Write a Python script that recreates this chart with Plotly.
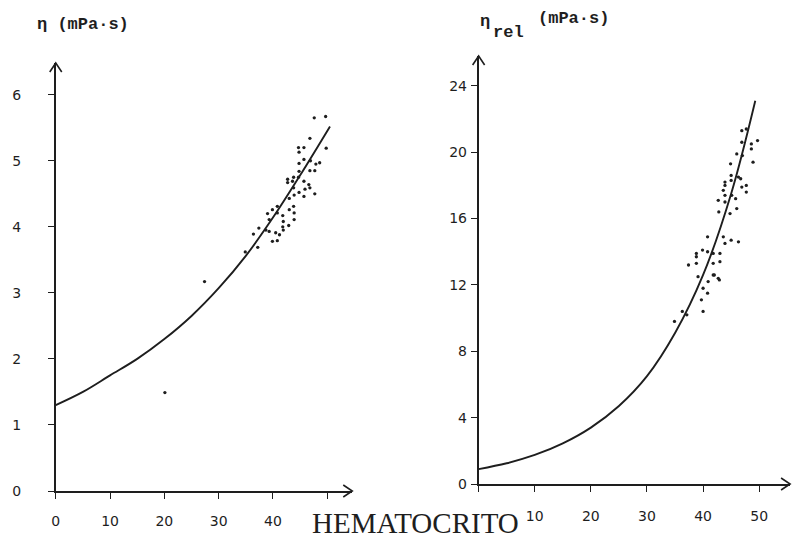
import plotly.graph_objects as go

# ---- data ----
# Left: viscosity eta (mPa.s) vs hematocrit
left_curve_x = [0, 5, 10, 15, 20, 25, 30, 35, 40, 45, 50.5]
left_curve_y = [1.3, 1.5, 1.75, 2.0, 2.3, 2.65, 3.07, 3.56, 4.14, 4.78, 5.52]

left_pts_x = [47.6, 49.7, 46.8, 44.7, 45.7, 44.8, 49.8, 45.7, 46.9, 48.6, 47.9, 44.8,
              44.8, 46.8, 47.7, 43.8, 44.7, 42.7, 43.6, 42.7, 45.7, 46.6, 45.9, 46.8,
              47.7, 45.7, 44.8, 43.8, 43.9, 43.0, 43.8, 43.0, 43.9, 40.8, 39.9, 39.0,
              40.8, 41.8, 43.9, 41.9, 42.9, 41.8, 41.9, 37.4, 38.7, 36.4, 39.3, 40.5,
              41.2, 39.9, 40.8, 37.2, 34.9, 39.3, 27.4, 20.1]
left_pts_y = [5.65, 5.67, 5.34, 5.20, 5.20, 5.13, 5.19, 5.02, 5.00, 4.97, 4.95, 4.96,
              4.84, 4.85, 4.85, 4.75, 4.75, 4.72, 4.69, 4.67, 4.69, 4.64, 4.57, 4.59,
              4.50, 4.46, 4.52, 4.59, 4.48, 4.43, 4.31, 4.26, 4.21, 4.31, 4.26, 4.20,
              4.21, 4.17, 4.11, 4.08, 4.02, 4.00, 3.95, 3.98, 3.95, 3.89, 3.93, 3.91,
              3.88, 3.78, 3.79, 3.69, 3.62, 4.11, 3.17, 1.49]

# Right: relative viscosity vs hematocrit
right_curve_x = [0, 5, 10, 15, 20, 25, 30, 35, 40, 45, 49.3]
right_curve_y = [0.9, 1.25, 1.75, 2.45, 3.4, 4.7, 6.5, 9.1, 12.6, 17.5, 23.1]

right_pts_x = [46.9, 47.7, 46.9, 48.6, 49.7, 48.6, 46.0, 47.0, 48.9, 44.9, 45.0, 46.3,
               46.7, 43.9, 45.0, 43.9, 46.9, 47.7, 47.7, 43.6, 43.9, 45.1, 42.7, 43.9,
               45.8, 46.0, 42.8, 44.8, 40.8, 43.6, 43.9, 45.0, 46.3, 38.8, 39.9, 40.8,
               41.8, 43.0, 38.8, 43.0, 37.4, 38.8, 41.8, 39.1, 41.8, 42.7, 40.9, 42.0,
               42.9, 40.0, 40.8, 39.7, 40.0, 36.3, 37.1, 34.9]
right_pts_y = [21.3, 21.4, 20.6, 20.5, 20.7, 20.2, 19.9, 19.8, 19.4, 19.3, 18.6, 18.5,
               18.4, 18.2, 18.3, 18.0, 17.9, 18.0, 17.6, 17.7, 17.4, 17.4, 17.1, 17.0,
               17.2, 16.6, 16.4, 16.3, 14.9, 14.9, 14.5, 14.7, 14.6, 13.9, 14.1, 14.0,
               13.9, 13.9, 13.7, 13.4, 13.2, 13.3, 13.3, 12.5, 12.6, 12.4, 12.2, 12.6,
               12.3, 11.8, 11.5, 11.1, 10.4, 10.4, 10.2, 9.8]

left_xticks = [0, 10, 20, 30, 40]
left_xminor = [50]
left_yticks = [0, 1, 2, 3, 4, 5, 6]
right_xticks = [10, 20, 30, 40, 50]
right_xminor = [0]
right_yticks = [0, 4, 8, 12, 16, 20, 24]

INK = "#1e1e1e"
W, H = 805, 538
HEFF = 530.0  # effective vertical size used for pixel -> paper conversion


def fx(px):
    return px / W


def fy(py):
    return 1 - py / HEFF


fig = go.Figure()
fig.add_trace(go.Scatter(x=left_curve_x, y=left_curve_y, mode="lines",
                         line=dict(color=INK, width=1.9, shape="spline"),
                         xaxis="x", yaxis="y", showlegend=False))
fig.add_trace(go.Scatter(x=left_pts_x, y=left_pts_y, mode="markers",
                         marker=dict(color=INK, size=3.3),
                         xaxis="x", yaxis="y", showlegend=False))
fig.add_trace(go.Scatter(x=right_curve_x, y=right_curve_y, mode="lines",
                         line=dict(color=INK, width=1.9, shape="spline"),
                         xaxis="x2", yaxis="y2", showlegend=False))
fig.add_trace(go.Scatter(x=right_pts_x, y=right_pts_y, mode="markers",
                         marker=dict(color=INK, size=3.3),
                         xaxis="x2", yaxis="y2", showlegend=False))

tickfont = dict(family="DejaVu Sans", size=14, color=INK)
axcommon = dict(showgrid=False, zeroline=False, showline=True, linecolor=INK,
                linewidth=1.6, ticks="outside", ticklen=6, tickwidth=1.4,
                tickcolor=INK, tickfont=tickfont)
minorstyle = dict(ticks="outside", ticklen=6, tickwidth=1.4, tickcolor=INK, showgrid=False)

LX0, LX1 = 52, 350
LYB, LYT = 491, 63
RX0, RX1 = 477, 790
RYB, RYT = 484, 56

left_xmax = 54.6
left_ymax = 6.48
right_xmax = 55.5
right_ymax = 25.8

fig.update_layout(
    width=W, height=H,
    margin=dict(l=0, r=0, t=0, b=0),
    paper_bgcolor="white", plot_bgcolor="white",
    xaxis=dict(domain=[fx(LX0), fx(LX1)], range=[0, left_xmax], anchor="y",
               tickvals=left_xticks, minor=dict(tickvals=left_xminor, **minorstyle),
               ticklabelstandoff=10, **axcommon),
    yaxis=dict(domain=[fy(LYB), fy(LYT)], range=[0, left_ymax], anchor="x",
               tickvals=left_yticks, ticklabelstandoff=24, **axcommon),
    xaxis2=dict(domain=[fx(RX0), fx(RX1)], range=[0, right_xmax], anchor="y2",
                tickvals=right_xticks, minor=dict(tickvals=right_xminor, **minorstyle),
                ticklabelstandoff=12, **axcommon),
    yaxis2=dict(domain=[fy(RYB), fy(RYT)], range=[0, right_ymax], anchor="x2",
                tickvals=right_yticks, ticklabelstandoff=1, **axcommon),
)


# Arrowheads at the axis ends (open chevrons, pixel-sized, paper anchored)
def chevron(px, py, path):
    fig.add_shape(type="path", xref="paper", yref="paper", xsizemode="pixel",
                  ysizemode="pixel", xanchor=fx(px), yanchor=fy(py), path=path,
                  line=dict(color=INK, width=1.6))


chevron(LX1, LYB, "M -9 6 L 0 0 L -9 -6")
chevron(LX0, LYT, "M -6 -9 L 0 0 L 6 -9")
chevron(RX1, RYB, "M -9 6 L 0 0 L -9 -6")
chevron(RX0, RYT, "M -6 -9 L 0 0 L 6 -9")

mono = "Liberation Mono"


def label(text, px, py, size, anchor="left", family=mono, pad=1):
    fig.add_annotation(xref="paper", yref="paper", x=fx(px), y=fy(py),
                       xanchor=anchor, yanchor="middle", showarrow=False,
                       borderpad=pad, text=text,
                       font=dict(family=family, size=size, color=INK))


label("<b>η (mPa·s)</b>", 31, 25, 17)
label("<b>η</b>", 476, 22, 17)
label("<b>rel</b>", 489, 33, 17)
label("<b>(mPa·s)</b>", 535, 19, 17)
label("HEMATOCRITO", 414, 523, 29, anchor="center", family="Liberation Serif", pad=0)

fig.write_html("out.html")
